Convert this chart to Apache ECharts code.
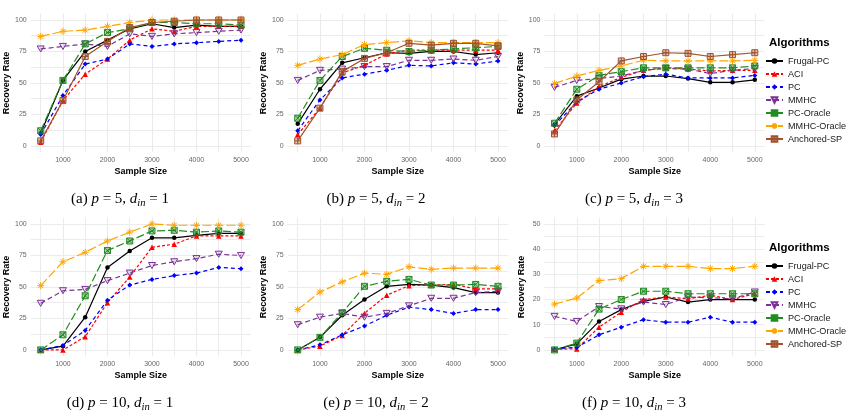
<!DOCTYPE html>
<html><head><meta charset="utf-8">
<script src="https://cdn.jsdelivr.net/npm/echarts@6/dist/echarts.min.js"></script>
<style>html,body{margin:0;padding:0;background:#fff}#c{width:851px;height:416px}</style>
</head><body><div id="c"></div>
<script>
// ---------------- DATA ----------------
const sampleSizes = [500,1000,1500,2000,2500,3000,3500,4000,4500,5000];
const xTickLabels = [1000,2000,3000,4000,5000];
const yTickLabels100 = [0,25,50,75,100];
const yTickLabels50 = [0,10,20,30,40,50];
const algorithms = ['Frugal-PC','ACI','PC','MMHC','PC-Oracle','MMHC-Oracle','Anchored-SP'];
const captionP = ['5','5','5','10','10','10'];
const captionD = ['1','2','3','1','2','3'];
const captionTag = ['(a)','(b)','(c)','(d)','(e)','(f)'];

// rows follow `algorithms` order
const rateA = [
  [10,52,75,84,93,97,94,96,95,95],
  [3,36,57,69,84,93,91,95,95,95],
  [9,40,65,69,81,79,81,82,83,84],
  [77,79,81,79,89,87,89,90,91,92],
  [12,52,81,90,93,98,98,97,97,96],
  [87,91,92,95,98,100,100,100,100,100],
  [4,36,71,83,94,98,99,100,100,100]
];
const rateB = [
  [17.5,45,66,70,74,73.5,75,75,72.5,74],
  [9,30,58,64,73,76,76,76,76,76],
  [12,36.5,54,57,60,64,63.5,66,65,67.5],
  [52,60,61,63,63,68,68,69,68,71],
  [22,52,71,77.5,76,75,76,77,78,79],
  [64,69,72.5,80.5,82,83.5,82,82,82,82],
  [4,30,59,69.5,74,81.5,80,81.5,81.5,79.5]
];
const rateC = [
  [17,39.5,46,53,55.5,55.5,53.5,50.5,50.5,52.5],
  [12,34,47,54.5,60,62,61,59.5,60,60],
  [16,35,45,50,55,57,54,54,54,56],
  [46.5,52,53.5,55.5,60,61.5,61,57.5,60,61.5],
  [18,45,56,59,62,62,62,62,62,63.5],
  [49.5,55.5,60,63.5,68,67.5,67.5,67.5,67.5,68],
  [9.5,36.5,51,67.5,71,74,73.5,71,72.5,74]
];
const rateD = [
  [0,3,26,65.5,78.5,89,89,91,92.5,92.5],
  [0,0,10.5,37.5,58,81.5,84,90.5,90.5,90.5],
  [0,3.5,15.5,39.5,51.5,56,59,61,65.5,64.5],
  [37,47,48,55,61,67,70,72.5,76,75],
  [0,12,43,79,86.5,94.5,95,93.5,94.5,93.5],
  [51,70,77.5,86.5,93.5,100,99,99,99,99]
];
const rateE = [
  [0,10,27.5,40,50.5,52,51.5,49.5,45.5,45.5],
  [0,3,11.5,29,43.5,51,51.5,52,48.5,48.5],
  [0,4,12,19,27.5,34,32,29,32,32],
  [20,26,29,26,29,35,41,41,45.5,46.5],
  [0,10,29.5,50.5,54.5,56,51.5,51.5,52,50.5],
  [32,46,54,61,60,66,64,65,65,65]
];
const rateF = [
  [0,2.4,11.3,16,19.3,21,19,20,20,20],
  [0.3,0.4,9,15,20,21,20.3,21.7,20,22.3],
  [0.4,1,6,9,12,11,11,13,11,11],
  [13.3,11.3,17.2,16.3,19,18,21,20.7,20.3,23],
  [0,2.7,16.2,20,23.3,23.3,22.3,22.3,22.3,22.3],
  [18.2,20.6,27.5,28.3,33.2,33.2,33.2,32.3,32.3,33.2]
];
const panels = [rateA, rateB, rateC, rateD, rateE, rateF];
const panelYMax = [100,100,100,100,100,50];

// ---------------- STYLES ----------------
const styles = {
  'Frugal-PC':  {stroke:'#000000', fill:'#000000', dash:'solid', symbol:'circle', size:4.5, bw:0},
  'ACI':        {stroke:'#FF0000', fill:'#FF0000', dash:[3,2], symbol:'triangle', size:5.5, bw:0},
  'PC':         {stroke:'#0000FF', fill:'#0000FF', dash:[4,3], symbol:'diamond', size:5, bw:0},
  'MMHC':       {stroke:'#7B3294', fill:'rgba(123,50,148,0.12)', dash:[5,3], symbol:'path://M0,0L10,0L5,8.66Z', size:7, bw:1},
  'PC-Oracle':  {stroke:'#228B22', fill:'rgba(34,139,34,0.35)', dash:[8,3], symbol:'path://M0,0L10,0L10,10L0,10Z M0,0L10,10 M10,0L0,10', size:6, bw:1},
  'MMHC-Oracle':{stroke:'#FFA500', fill:'rgba(255,165,0,0)', dash:[9,3], symbol:'path://M5,0L5,10M0,5L10,5M1.5,1.5L8.5,8.5M8.5,1.5L1.5,8.5', size:7, bw:1},
  'Anchored-SP':{stroke:'#A0522D', fill:'rgba(160,82,45,0.35)', dash:'solid', symbol:'path://M0,0L10,0L10,10L0,10Z M5,0L5,10 M0,5L10,5', size:6, bw:1}
};

const FONT = 'Liberation Sans, Arial, sans-serif';
const gridLefts = [30.7, 287.7, 544.5];
const gridTops = [13.7, 217.7];
const gridW = 220.3, gridH = 138.5;

const grids = [], xAxes = [], yAxes = [], series = [];
panels.forEach((rows, g) => {
  const col = g % 3, row = Math.floor(g / 3);
  grids.push({left: gridLefts[col], top: gridTops[row], width: gridW, height: gridH, containLabel: false});
  const ymax = panelYMax[g];
  const pad = ymax * 0.05;
  const yTickStep = ymax === 50 ? 5 : 12.5;
  const yTicks = [];
  for (let v = 0; v <= ymax + 1e-9; v += yTickStep) yTicks.push(v);
  xAxes.push({
    type: 'value', gridIndex: g, min: 275, max: 5225,
    name: 'Sample Size', nameLocation: 'middle', nameGap: 15,
    nameTextStyle: {fontFamily: FONT, fontSize: 9, fontWeight: 'bold', color: '#000'},
    axisLine: {show: false},
    axisTick: {show: false, customValues: sampleSizes},
    axisLabel: {customValues: xTickLabels, formatter: v => String(v), fontFamily: FONT, fontSize: 7, color: '#666', margin: 4},
    splitLine: {show: true, lineStyle: {color: '#EBEBEB', width: 1}}
  });
  yAxes.push({
    type: 'value', gridIndex: g, min: -pad, max: ymax + pad,
    name: 'Recovery Rate', nameLocation: 'middle', nameGap: 18,
    nameTextStyle: {fontFamily: FONT, fontSize: 9, fontWeight: 'bold', color: '#000'},
    axisLine: {show: false},
    axisTick: {show: false, customValues: yTicks},
    axisLabel: {customValues: ymax === 50 ? yTickLabels50 : yTickLabels100, formatter: v => String(v), fontFamily: FONT, fontSize: 7, color: '#666', margin: 4},
    splitLine: {show: true, lineStyle: {color: '#EBEBEB', width: 1}}
  });
  rows.forEach((vals, k) => {
    const name = algorithms[k];
    const s = styles[name];
    series.push({
      type: 'line', name: name, xAxisIndex: g, yAxisIndex: g,
      data: sampleSizes.map((x, i) => [x, vals[i]]),
      symbol: s.symbol, symbolSize: s.size, symbolKeepAspect: true,
      itemStyle: {color: s.fill, borderColor: s.stroke, borderWidth: s.bw},
      lineStyle: {color: s.stroke, width: 1.2, type: s.dash},
      emphasis: {disabled: true}, animation: false, z: 2 + k
    });
  });
});

const legendCommon = {
  orient: 'vertical', left: 765, itemWidth: 17, itemHeight: 7, itemGap: 4, padding: 0,
  data: algorithms,
  textStyle: {fontFamily: FONT, fontSize: 9.1, color: '#1a1a1a', lineHeight: 9},
  selectedMode: false
};

const graphics = [];
[43, 248].forEach(y => graphics.push({
  type: 'text', x: 769, y: y,
  style: {text: 'Algorithms', font: 'bold 11.5px ' + FONT, fill: '#000', textVerticalAlign: 'middle'}
}));
const capX = [120, 376, 634], capY = [199, 403];
captionTag.forEach((tag, g) => {
  const col = g % 3, row = Math.floor(g / 3);
  graphics.push({
    type: 'text', x: capX[col], y: capY[row],
    style: {
      text: '{n|' + tag + ' }{i|p}{n| = ' + captionP[g] + ', }{i|d}{s|in}{n| = ' + captionD[g] + '}',
      textAlign: 'center', textVerticalAlign: 'middle',
      rich: {
        n: {fontFamily: 'Liberation Serif', fontSize: 15, lineHeight: 20, fill: '#000'},
        i: {fontFamily: 'Liberation Serif', fontSize: 15, fontStyle: 'italic', lineHeight: 20, fill: '#000'},
        s: {fontFamily: 'Liberation Serif', fontSize: 10.5, fontStyle: 'italic', lineHeight: 20, verticalAlign: 'bottom', fill: '#000'}
      }
    }
  });
});

const chart = echarts.init(document.getElementById('c'));
chart.setOption({
  animation: false,
  backgroundColor: '#fff',
  grid: grids, xAxis: xAxes, yAxis: yAxes, series: series,
  legend: [Object.assign({top: 56.5}, legendCommon), Object.assign({top: 261.5}, legendCommon)],
  graphic: graphics
});
</script></body></html>
